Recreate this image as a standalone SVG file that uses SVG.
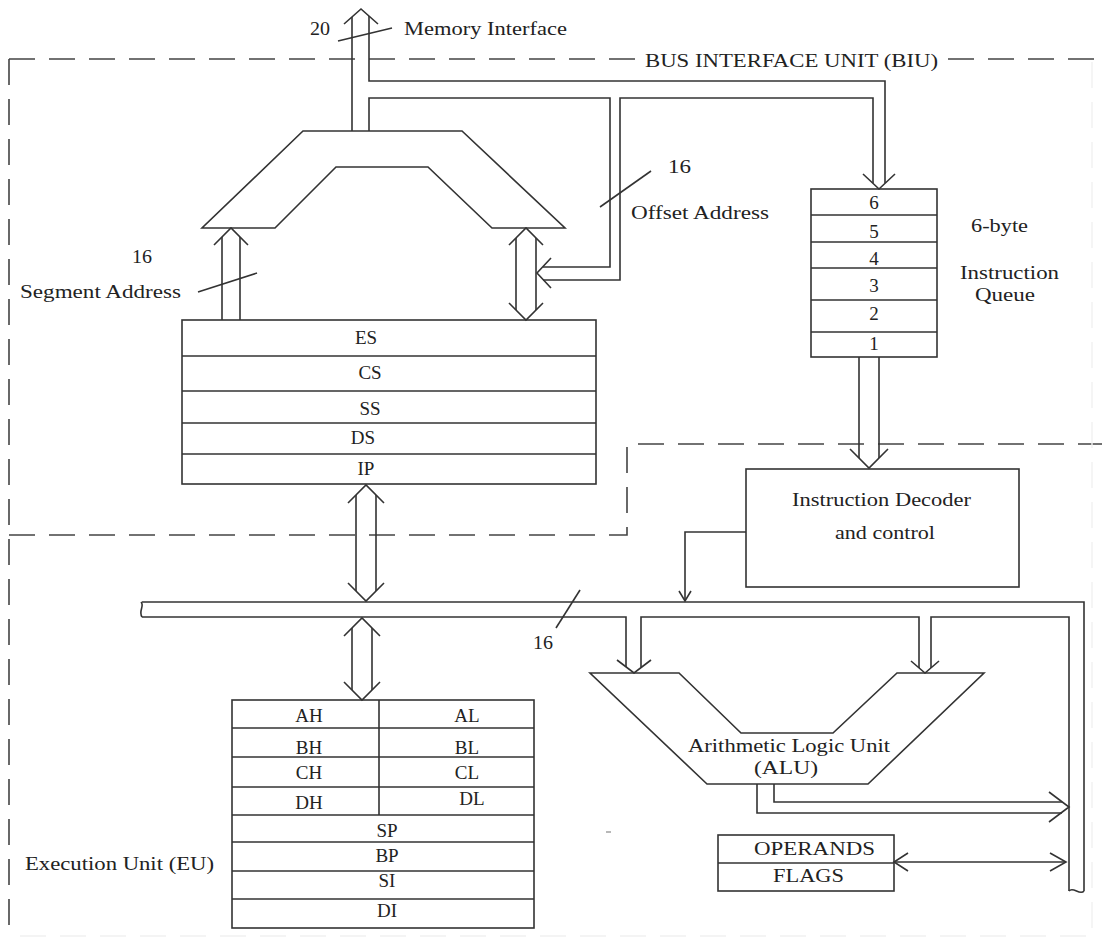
<svg xmlns="http://www.w3.org/2000/svg" width="1102" height="944" viewBox="0 0 1102 944">
<style>
.ln{fill:none;stroke:#333;stroke-width:1.6}
.bx{fill:#fff;stroke:#333;stroke-width:1.6}
.dash{fill:none;stroke:#444;stroke-width:1.6;stroke-dasharray:26 14}
.faint{fill:none;stroke:#f1f1f1;stroke-width:1.4;stroke-dasharray:26 14}
text{font-family:"Liberation Serif","Times New Roman",serif;font-size:19px;fill:#222}
.c{text-anchor:middle}
.s{font-size:18px}
</style>
<rect width="1102" height="944" fill="#fff"/>
<g id="boundaries">
<path class="dash" d="M9,59 H637 M948,59 H1102"/>
<path class="dash" d="M9,59 V935"/>
<path class="dash" d="M9,535 H627 V444 H1102"/>
<path class="faint" d="M1092,62 V930 M20,936 H1090"/>
</g>
<g id="labels">
<text x="310" y="35" textLength="20" lengthAdjust="spacingAndGlyphs">20</text>
<text x="404" y="35" textLength="163" lengthAdjust="spacingAndGlyphs">Memory Interface</text>
<text x="645" y="67" textLength="293" lengthAdjust="spacingAndGlyphs">BUS INTERFACE UNIT (BIU)</text>
<text x="668" y="173" textLength="23" lengthAdjust="spacingAndGlyphs">16</text>
<text x="631" y="219" textLength="138" lengthAdjust="spacingAndGlyphs">Offset Address</text>
<text x="132" y="263" textLength="20" lengthAdjust="spacingAndGlyphs">16</text>
<text x="20" y="298" textLength="161" lengthAdjust="spacingAndGlyphs">Segment Address</text>
<text x="533" y="649" textLength="20" lengthAdjust="spacingAndGlyphs">16</text>
<text x="971" y="232" textLength="57" lengthAdjust="spacingAndGlyphs">6-byte</text>
<text x="960" y="279" textLength="99" lengthAdjust="spacingAndGlyphs">Instruction</text>
<text x="975" y="301" textLength="60" lengthAdjust="spacingAndGlyphs">Queue</text>
<text x="25" y="870" textLength="189" lengthAdjust="spacingAndGlyphs">Execution Unit (EU)</text>
</g>
<g id="address-adder">
<polygon class="bx" points="303,131 462,131 565,228 492,228 428,167 336,167 275,228 202,228"/>
</g>
<g id="segment-registers">
<rect class="bx" x="182" y="320" width="414" height="164"/>
<path class="ln" d="M182,356 H596 M182,391 H596 M182,423 H596 M182,454 H596"/>
<text class="c" x="366" y="344">ES</text>
<text class="c" x="370" y="379">CS</text>
<text class="c" x="370" y="415">SS</text>
<text class="c" x="363" y="444">DS</text>
<text class="c" x="366" y="475">IP</text>
</g>
<g id="instruction-queue">
<rect class="bx" x="811" y="189" width="126" height="168"/>
<path class="ln" d="M811,215 H937 M811,242 H937 M811,268 H937 M811,300 H937 M811,332 H937"/>
<text class="c" x="874" y="209">6</text>
<text class="c" x="874" y="238">5</text>
<text class="c" x="874" y="265">4</text>
<text class="c" x="874" y="292">3</text>
<text class="c" x="874" y="320">2</text>
<text class="c" x="874" y="350">1</text>
</g>
<g id="decoder">
<rect class="bx" x="746" y="469" width="273" height="118"/>
<text x="792" y="506" textLength="179" lengthAdjust="spacingAndGlyphs">Instruction Decoder</text>
<text x="835" y="539" textLength="100" lengthAdjust="spacingAndGlyphs">and control</text>
</g>
<g id="alu">
<polygon class="bx" points="590,673 679,673 741,733 833,733 897,673 984,673 868,784 707,784"/>
<text class="s" x="688" y="752" textLength="202" lengthAdjust="spacingAndGlyphs">Arithmetic Logic Unit</text>
<text class="s" x="754" y="774" textLength="64" lengthAdjust="spacingAndGlyphs">(ALU)</text>
</g>
<g id="general-registers">
<rect class="bx" x="232" y="700" width="302" height="228"/>
<path class="ln" d="M232,728 H534 M232,757 H534 M232,787 H534 M232,815 H534 M232,842 H534 M232,871 H534 M232,899 H534 M379,700 V815"/>
<text class="c" x="309" y="722">AH</text>
<text class="c" x="467" y="722">AL</text>
<text class="c" x="309" y="754">BH</text>
<text class="c" x="467" y="754">BL</text>
<text class="c" x="309" y="779">CH</text>
<text class="c" x="467" y="779">CL</text>
<text class="c" x="309" y="809">DH</text>
<text class="c" x="472" y="805">DL</text>
<text class="c" x="387" y="837">SP</text>
<text class="c" x="387" y="862">BP</text>
<text class="c" x="387" y="887">SI</text>
<text class="c" x="387" y="917">DI</text>
</g>
<g id="operands-flags">
<rect class="bx" x="718" y="835" width="176" height="56"/>
<path class="ln" d="M718,863 H894"/>
<text x="754" y="855" textLength="121" lengthAdjust="spacingAndGlyphs">OPERANDS</text>
<text x="773" y="882" textLength="71" lengthAdjust="spacingAndGlyphs">FLAGS</text>
</g>
<g id="connectors">
<path class="ln" d="M352,17 V131"/>
<path class="ln" d="M369,16 V81 H885 V183"/>
<path class="ln" d="M344,24 L361,9 L378,24"/>
<path class="ln" d="M338,41 L392,28"/>
<path class="ln" d="M369,131 V98 H610 V267 H543"/>
<path class="ln" d="M543,280 H620 V98 H873 V183"/>
<path class="ln" d="M863,174 L879,189 L895,174"/>
<path class="ln" d="M551,258 L537,273 L551,288"/>
<path class="ln" d="M600,207 L651,171"/>
<path class="ln" d="M222,237 V320 M240,237 V320"/>
<path class="ln" d="M214,245 L231,228 L248,245"/>
<path class="ln" d="M198,292 L257,273"/>
<path class="ln" d="M516,238 V310 M536,238 V310"/>
<path class="ln" d="M509,245 L526,228 L543,245 M509,303 L526,320 L543,303"/>
<path class="ln" d="M356,495 V591 M376,495 V591"/>
<path class="ln" d="M348,503 L366,485 L384,503 M348,583 L366,601 L384,583"/>
<path class="ln" d="M859,357 V458 M879,357 V458"/>
<path class="ln" d="M850,449 L869,468 L888,449"/>
<path class="ln" d="M746,532 H685 V601"/>
<path class="ln" d="M679,591 L685,601 L691,591"/>
<path class="ln" d="M142,602 H1084 V891"/>
<path class="ln" d="M142,617 H626 V667 M641,667 V617 H919 V668 M931,668 V617 H1069 V891"/>
<path class="ln" d="M141,602 C145,606 138,611 142,617"/>
<path class="ln" d="M1069,891 C1073,886 1080,896 1084,891"/>
<path class="ln" d="M556,628 L580,590"/>
<path class="ln" d="M352,628 V690 M372,628 V690"/>
<path class="ln" d="M344,636 L362,618 L380,636 M344,682 L362,700 L380,682"/>
<path class="ln" d="M617,660 L634,673 L651,660"/>
<path class="ln" d="M911,661 L925,673 L939,661"/>
<path class="ln" d="M774,784 V802 H1062 M757,784 V813 H1062"/>
<path class="ln" d="M1049,792 L1069,807 L1049,822"/>
<path class="ln" d="M894,862 H1066"/>
<path class="ln" d="M908,853 L894,862 L908,871 M1050,853 L1066,862 L1050,871"/>
<path d="M606,832 H611" stroke="#888" stroke-width="1.2"/>
</g>
</svg>
